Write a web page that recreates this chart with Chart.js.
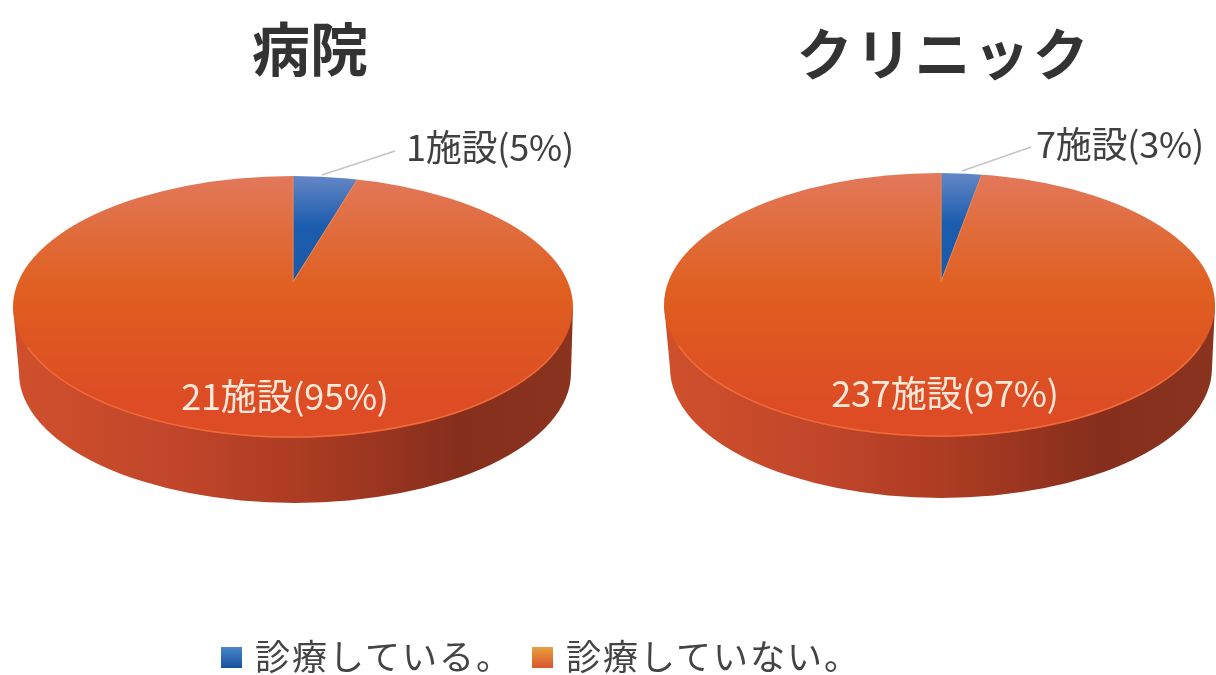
<!DOCTYPE html>
<html lang="ja">
<head>
<meta charset="UTF-8">
<title>診療</title>
<script src="https://cdn.jsdelivr.net/npm/chart.js"></script>
<style>
    body { margin: 0; background: #fff; width: 1216px; height: 675px; overflow: hidden; position: relative;
           font-family: "Noto Sans CJK JP", sans-serif; }
    canvas { position: absolute; top: 0; }
    #c1 { left: 0; }
    #c2 { left: 608px; }
    .title { position: absolute; font-weight: 700; color: #333; line-height: 76px;
             transform: translateX(-50%); white-space: nowrap; }
    #legend { position: absolute; left: 221px; top: 630px; font-size: 35px; line-height: 50px; color: #444;
              display: flex; align-items: center; white-space: nowrap; letter-spacing: 2px; }
    #legend i { display: inline-block; width: 21px; height: 21px; margin-right: 13px; position: relative; top: 2px; }
</style>
</head>
<body>
<div class="title" style="left:310px;top:8px;font-size:58px">病院</div>
<div class="title" style="left:944px;top:13px;font-size:56px;letter-spacing:3px">クリニック</div>
<canvas id="c1" width="608" height="675"></canvas>
<canvas id="c2" width="608" height="675"></canvas>
<div id="legend"></div>

<script>
const categories = ["診療している。", "診療していない。"];
const hospitalCounts = [1, 21];
const hospitalPercents = [5, 95];
const clinicCounts = [7, 237];
const clinicPercents = [3, 97];

// shape of the tilted pies, in canvas px
const leftShape = {
    cx: 293, cy: 307, rx: 280, ry: 131, apexX: 293, apexY: 282,
    sideCx: 295, sideCy: 373, sideRx: 276, sideRy: 130,
    leader: [322, 175, 395, 151],
    outside: [490, 147], inside: [285, 396]
};
const rightShape = {
    cx: 331.5, cy: 305, rx: 275.5, ry: 132, apexX: 333, apexY: 282,
    sideCx: 333, sideCy: 368, sideRx: 271, sideRy: 130,
    leader: [354, 171, 423, 147],
    outside: [512, 144], inside: [337, 393]
};

function unit(count) { return count + "施設"; }

function tiltPlugin(shape, counts, percents) {
    return {
        id: "tilt",
        beforeDatasetsDraw(chart) {
            const ctx = chart.ctx;
            // side wall
            const side = ctx.createLinearGradient(shape.cx - shape.rx, 0, shape.cx + shape.rx, 0);
            side.addColorStop(0, "#d0502c");
            side.addColorStop(0.3, "#c0452a");
            side.addColorStop(0.55, "#a83a22");
            side.addColorStop(0.8, "#852e1c");
            side.addColorStop(1, "#8a3420");
            ctx.save();
            ctx.fillStyle = side;
            ctx.beginPath();
            ctx.moveTo(shape.cx - shape.rx, shape.cy);
            ctx.lineTo(shape.sideCx - shape.sideRx, shape.sideCy);
            ctx.ellipse(shape.sideCx, shape.sideCy, shape.sideRx, shape.sideRy, 0, Math.PI, 0, true);
            ctx.lineTo(shape.cx + shape.rx, shape.cy);
            ctx.closePath();
            ctx.fill();
            // top face
            ctx.beginPath();
            ctx.ellipse(shape.cx, shape.cy, shape.rx, shape.ry, 0, 0, Math.PI * 2);
            ctx.clip();
            const arc = chart.getDatasetMeta(0).data[0];
            const k = shape.ry / shape.rx;
            ctx.translate(shape.apexX, shape.apexY);
            ctx.scale(1, k);
            ctx.translate(-arc.x, -arc.y);
        },
        afterDatasetsDraw(chart) {
            const ctx = chart.ctx;
            ctx.restore();
            // light rim on the front edge of the top face
            ctx.strokeStyle = "#ee6c3a";
            ctx.lineWidth = 1.5;
            ctx.beginPath();
            ctx.ellipse(shape.cx, shape.cy, shape.rx - 1, shape.ry - 1, 0, 0.1 * Math.PI, 0.9 * Math.PI);
            ctx.stroke();
            // leader line
            ctx.strokeStyle = "#c4c4c4";
            ctx.lineWidth = 1.5;
            ctx.beginPath();
            ctx.moveTo(shape.leader[0], shape.leader[1]);
            ctx.lineTo(shape.leader[2], shape.leader[3]);
            ctx.stroke();
            // labels
            ctx.font = '36px "Noto Sans CJK JP"';
            ctx.letterSpacing = "-0.2px";
            ctx.textAlign = "center";
            ctx.textBaseline = "middle";
            ctx.fillStyle = "#404040";
            ctx.fillText(unit(counts[0]) + "(" + percents[0] + "%)", shape.outside[0], shape.outside[1]);
            ctx.fillStyle = "#ffe9da";
            ctx.fillText(unit(counts[1]) + "(" + percents[1] + "%)", shape.inside[0], shape.inside[1]);
        }
    };
}

function faceGradient(ctx, top, bottom, stops) {
    const g = ctx.createLinearGradient(0, top, 0, bottom);
    stops.forEach((s, i) => g.addColorStop(i / (stops.length - 1), s));
    return g;
}

function makePie(id, counts, percents, shape) {
    const canvas = document.getElementById(id);
    const ctx = canvas.getContext("2d");
    const mid = canvas.height / 2;
    return new Chart(canvas, {
        type: "pie",
        data: {
            labels: categories,
            datasets: [{
                data: counts,
                backgroundColor: [
                    faceGradient(ctx, mid - 220, mid - 20, ["#5f84c4", "#1b5cae", "#1d5aa8"]),
                    faceGradient(ctx, mid - 230, mid + 260, ["#e2785c", "#e06c3c", "#e05f20", "#de5522", "#dd4c25"])
                ],
                borderColor: "#ee8a50",
                borderWidth: 1
            }]
        },
        options: {
            responsive: false,
            animation: false,
            radius: 340,
            plugins: { legend: { display: false }, tooltip: { enabled: false } }
        },
        plugins: [tiltPlugin(shape, counts, percents)]
    });
}

makePie("c1", hospitalCounts, hospitalPercents, leftShape);
makePie("c2", clinicCounts, clinicPercents, rightShape);

const swatches = [
    "linear-gradient(#4a86c8, #17519f)",
    "linear-gradient(#e8a040, #d9562a)"
];
document.getElementById("legend").innerHTML = categories.map((c, i) =>
    '<i style="background:' + swatches[i] + '"></i><span style="margin-right:' + (i ? 0 : 19) + 'px">' + c + '</span>'
).join("");
</script>
</body>
</html>
